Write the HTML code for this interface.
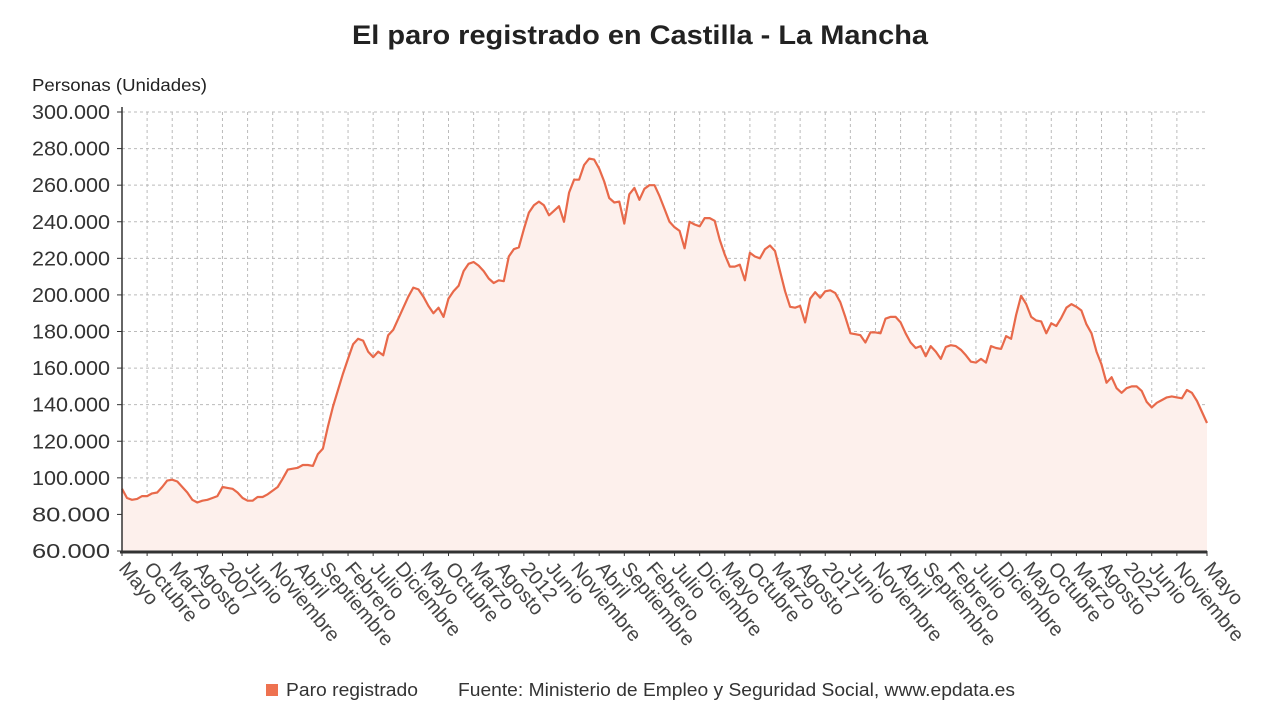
<!DOCTYPE html>
<html><head><meta charset="utf-8"><style>
body{margin:0;background:#fff;font-family:"Liberation Sans",sans-serif}
</style></head><body>
<svg id="chart" width="1280" height="720" xmlns="http://www.w3.org/2000/svg" font-family="Liberation Sans, sans-serif">
<text x="640" y="44" text-anchor="middle" font-size="27" font-weight="bold" fill="#222" textLength="576" lengthAdjust="spacingAndGlyphs">El paro registrado en Castilla - La Mancha</text>
<text x="32" y="91" font-size="17.5" fill="#222" textLength="175" lengthAdjust="spacingAndGlyphs">Personas (Unidades)</text>
<g id="grid"></g><g id="series"></g><g id="axes"></g>
<g>
<rect x="266" y="684" width="12" height="12" fill="#ee7250"/>
<text x="286" y="696" font-size="18" fill="#333" textLength="132" lengthAdjust="spacingAndGlyphs">Paro registrado</text>
<text x="458" y="696" font-size="18" fill="#333" textLength="557" lengthAdjust="spacingAndGlyphs">Fuente: Ministerio de Empleo y Seguridad Social, www.epdata.es</text>
</g>
</svg>
<script>
const values=[94,89,88,88.5,90,90,91.5,92,95,98.5,99,98,95,92,88,86.5,87.5,88,89,90,
95,94.5,94,92,89,87.5,87.5,89.5,89.5,91,93,95,99.5,104.5,105,105.5,107,107,106.5,113,
116,128,139,148,157,165,173,176,175,169,166,169,167,178,181,187,193,199,204,203,
199,194,190,193,188,198,202,205,213,217,218,216,213,209,206.5,208,207.5,221,225,226,
236,245,249,251,249,243.5,246,248.5,240,256,263,263,271,274.5,274,269,262,253,250.5,251,
239,255,258.5,252,258,260,260,254,247,240,237,235,225.5,240,238.5,237.5,242,242,240.5,230,
222,215.5,215.5,216.5,208,223,221,220,225,227,224,213,202,193.5,193,194,185,198,201.5,198.5,
202,202.5,201,196,188,179,178.5,178,174,179.5,179.5,179,187,188,188,185,179,174,171,172,
166.5,172,169,165,171.5,172.5,172,170,167,163.5,163,165,163,172,171,170.5,177.5,176,189,199.5,
195,188,186,185.5,179,184.5,183,187.5,193,195,193.5,191.5,184,179,169,162,152,155,149,146.5,
149,150,150,147.5,141.5,138.5,141,142.5,144,144.5,144,143.5,148,146.5,142,136,130];
const yTicks=[60000,80000,100000,120000,140000,160000,180000,200000,220000,240000,260000,280000,300000];
const tickLabels=["Mayo","Octubre","Marzo","Agosto","2007","Junio","Noviembre","Abril","Septiembre","Febrero","Julio","Diciembre","Mayo","Octubre","Marzo","Agosto","2012","Junio","Noviembre","Abril","Septiembre","Febrero","Julio","Diciembre","Mayo","Octubre","Marzo","Agosto","2017","Junio","Noviembre","Abril","Septiembre","Febrero","Julio","Diciembre","Mayo","Octubre","Marzo","Agosto","2022","Junio","Noviembre"];
const lastLabel="Mayo";
const X0=122,X1=1207,Y0=551,Y1=112;
const n=values.length;
const x=i=>X0+(X1-X0)*i/(n-1);
const y=v=>Y0-(v-60000)/(240000)*(Y0-Y1);
const NS="http://www.w3.org/2000/svg";
function mk(t,a,p){const e=document.createElementNS(NS,t);for(const k in a)e.setAttribute(k,a[k]);p.appendChild(e);return e;}
const grid=document.getElementById('grid'),ser=document.getElementById('series'),ax=document.getElementById('axes');
yTicks.forEach(t=>{
 const l=mk('line',{x1:X0,x2:X1,y1:y(t),y2:y(t),stroke:'#bbb','stroke-dasharray':'3,3'},grid);
 
 
 const tx=mk('text',{x:110,y:y(t)+7,'text-anchor':'end','font-size':20,fill:'#333',textLength:78,lengthAdjust:'spacingAndGlyphs'},ax);
 tx.textContent=t.toLocaleString('de-DE');
 
 
 const tk=mk('line',{x1:117,x2:122,y1:y(t),y2:y(t),stroke:'#333'},ax);
 
 
});
const labIdx=tickLabels.map((_,k)=>k*5).concat([n-1]);
const labTxt=tickLabels.concat([lastLabel]);
labIdx.forEach((i,k)=>{
 const gx=x(i);
 if(k<labIdx.length-1){const g=mk('line',{x1:gx,x2:gx,y1:Y1,y2:Y0,stroke:'#bbb','stroke-dasharray':'3,3'},grid);
 
 }
 const tk=mk('line',{x1:gx,x2:gx,y1:Y0,y2:Y0+5,stroke:'#333'},ax);
 
 
 const tx=mk('text',{x:gx-4,y:Y0+18,'font-size':20,fill:'#444',transform:`rotate(50 ${gx-4} ${Y0+18})`},ax);
 tx.textContent=labTxt[k];
 
 
});
let d='';values.forEach((v,i)=>{d+=(i?'L':'M')+x(i).toFixed(1)+','+y(v*1000).toFixed(1);});
const area=mk('path',{d:d+`L${X1},${Y0}L${X0},${Y0}Z`,fill:'#fdf0ec'},ser);


const line=mk('path',{d:d,fill:'none',stroke:'#e8694a','stroke-width':2.2,'stroke-linejoin':'round'},ser);


const xa=mk('line',{x1:X0-2,x2:X1,y1:Y0+1,y2:Y0+1,stroke:'#333','stroke-width':3},ax);


const ya=mk('line',{x1:X0,x2:X0,y1:Y1-5,y2:Y0,stroke:'#333','stroke-width':1.5},ax);


</script>
</body></html>
